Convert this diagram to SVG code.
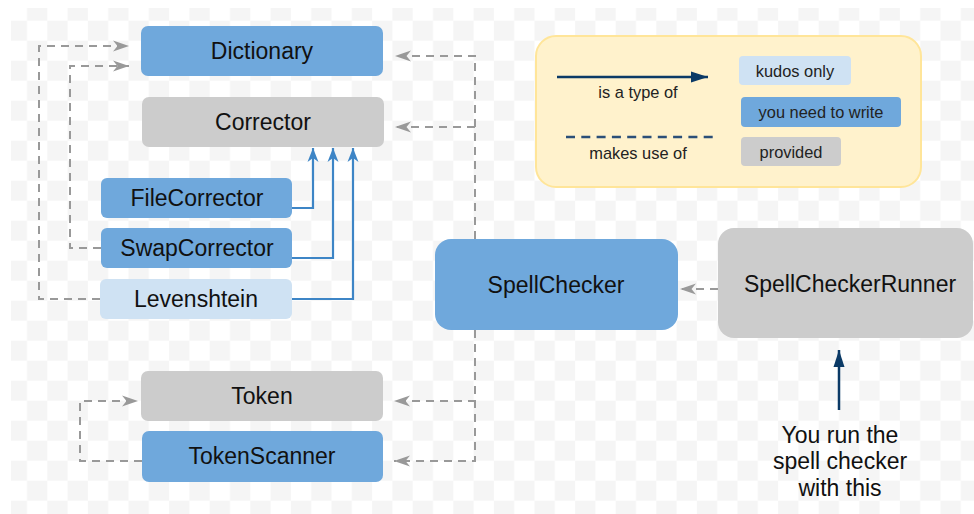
<svg xmlns="http://www.w3.org/2000/svg" width="974" height="514" viewBox="0 0 974 514">
  <style>
    .node-text { font-family: "Liberation Sans", Arial, sans-serif; font-size: 23px; fill: #111111; text-anchor: middle; }
    .legend-text { font-family: "Liberation Sans", Arial, sans-serif; font-size: 16.4px; fill: #222222; text-anchor: middle; }
    .blue { fill: #6fa8dc; }
    .gray { fill: #cccccc; }
    .light { fill: #cfe2f3; }
    .uses { fill: none; stroke: #999999; stroke-width: 2; stroke-dasharray: 8 6; marker-end: url(#grayArrow); }
    .isa { fill: none; stroke: #3d85c6; stroke-width: 2.2; marker-end: url(#blueArrow); }
  </style>
  <defs>
    <pattern id="checker" patternUnits="userSpaceOnUse" x="6.7" y="0.7" width="40.6" height="40">
      <rect x="20.3" y="0" width="20.3" height="20" fill="#f5f5f5"/>
      <rect x="0" y="20" width="20.3" height="20" fill="#f5f5f5"/>
    </pattern>
    <marker id="grayArrow" markerUnits="userSpaceOnUse" markerWidth="17" markerHeight="12" refX="16" refY="6" orient="auto">
      <path d="M0,0.5 L16,6 L0,11.5 L4.5,6 z" fill="#999999"/>
    </marker>
    <marker id="blueArrow" markerUnits="userSpaceOnUse" markerWidth="15" markerHeight="12" refX="14" refY="6" orient="auto">
      <path d="M0,0.5 L14,6 L0,11.5 L4,6 z" fill="#3d85c6"/>
    </marker>
    <marker id="navyArrow" markerUnits="userSpaceOnUse" markerWidth="18" markerHeight="12" refX="17" refY="6" orient="auto">
      <path d="M0,0.5 L17,6 L0,11.5 z" fill="#0b3a66"/>
    </marker>
  </defs>

  <rect x="0" y="0" width="974" height="514" fill="#ffffff"/>
  <rect x="11" y="8" width="963" height="506" fill="url(#checker)"/>

  <g id="legend">
    <rect x="536" y="36" width="385" height="151" rx="20" fill="#fff2cc" stroke="#ffe599" stroke-width="2"/>
    <path d="M557,77 H708" stroke="#0b3a66" stroke-width="2.5" fill="none" marker-end="url(#navyArrow)"/>
    <text class="legend-text" x="638" y="98">is a type of</text>
    <path d="M566,137 H717" stroke="#2b4f78" stroke-width="2.5" stroke-dasharray="9 6.3" fill="none"/>
    <text class="legend-text" x="638" y="159">makes use of</text>
    <rect x="739" y="56" width="112" height="29" rx="4" class="light"/>
    <text class="legend-text" x="795" y="77">kudos only</text>
    <rect x="741" y="97" width="160" height="30" rx="4" class="blue"/>
    <text class="legend-text" x="821" y="118">you need to write</text>
    <rect x="741" y="137" width="100" height="29" rx="4" class="gray"/>
    <text class="legend-text" x="791" y="158">provided</text>
  </g>

  <g id="connectors">
    <path class="uses" d="M100,299 H39 V46 H129"/>
    <path class="uses" d="M101,248 H70 V66 H129"/>
    <path class="uses" d="M475,239 V56 H395"/>
    <path class="uses" d="M475,239 V127 H395"/>
    <path class="uses" d="M475,330 V461 H394"/>
    <path class="uses" d="M475,330 V401 H394"/>
    <path class="uses" d="M142,461 H80 V401 H138"/>
    <path class="uses" d="M718,289 H680"/>
    <path class="isa" d="M292,208 H313 V148"/>
    <path class="isa" d="M292,258 H333 V148"/>
    <path class="isa" d="M292,299 H353 V148"/>
    <path d="M839,410 V350" stroke="#0b3a66" stroke-width="2.5" fill="none" marker-end="url(#navyArrow)"/>
  </g>

  <g id="Dictionary">
    <rect x="141" y="26" width="242" height="50" rx="7" class="blue"/>
    <text class="node-text" x="262" y="59">Dictionary</text>
  </g>
  <g id="Corrector">
    <rect x="142" y="97" width="242" height="50" rx="7" class="gray"/>
    <text class="node-text" x="263" y="130">Corrector</text>
  </g>
  <g id="FileCorrector">
    <rect x="101" y="178" width="191" height="40" rx="6" class="blue"/>
    <text class="node-text" x="197" y="206">FileCorrector</text>
  </g>
  <g id="SwapCorrector">
    <rect x="101" y="228" width="191" height="40" rx="6" class="blue"/>
    <text class="node-text" x="197" y="256">SwapCorrector</text>
  </g>
  <g id="Levenshtein">
    <rect x="100" y="279" width="192" height="40" rx="6" class="light"/>
    <text class="node-text" x="196" y="307">Levenshtein</text>
  </g>
  <g id="Token">
    <rect x="141" y="371" width="242" height="50" rx="7" class="gray"/>
    <text class="node-text" x="262" y="404">Token</text>
  </g>
  <g id="TokenScanner">
    <rect x="142" y="431" width="241" height="51" rx="7" class="blue"/>
    <text class="node-text" x="262" y="464">TokenScanner</text>
  </g>
  <g id="SpellChecker">
    <rect x="435" y="239" width="243" height="91" rx="16" class="blue"/>
    <text class="node-text" x="556" y="293">SpellChecker</text>
  </g>
  <g id="SpellCheckerRunner">
    <rect x="718" y="228" width="255" height="110" rx="16" class="gray"/>
    <text class="node-text" x="850" y="292">SpellCheckerRunner</text>
  </g>
  <g id="note">
    <text class="node-text" x="840" y="443">You run the</text>
    <text class="node-text" x="840" y="469">spell checker</text>
    <text class="node-text" x="840" y="496">with this</text>
  </g>
</svg>
